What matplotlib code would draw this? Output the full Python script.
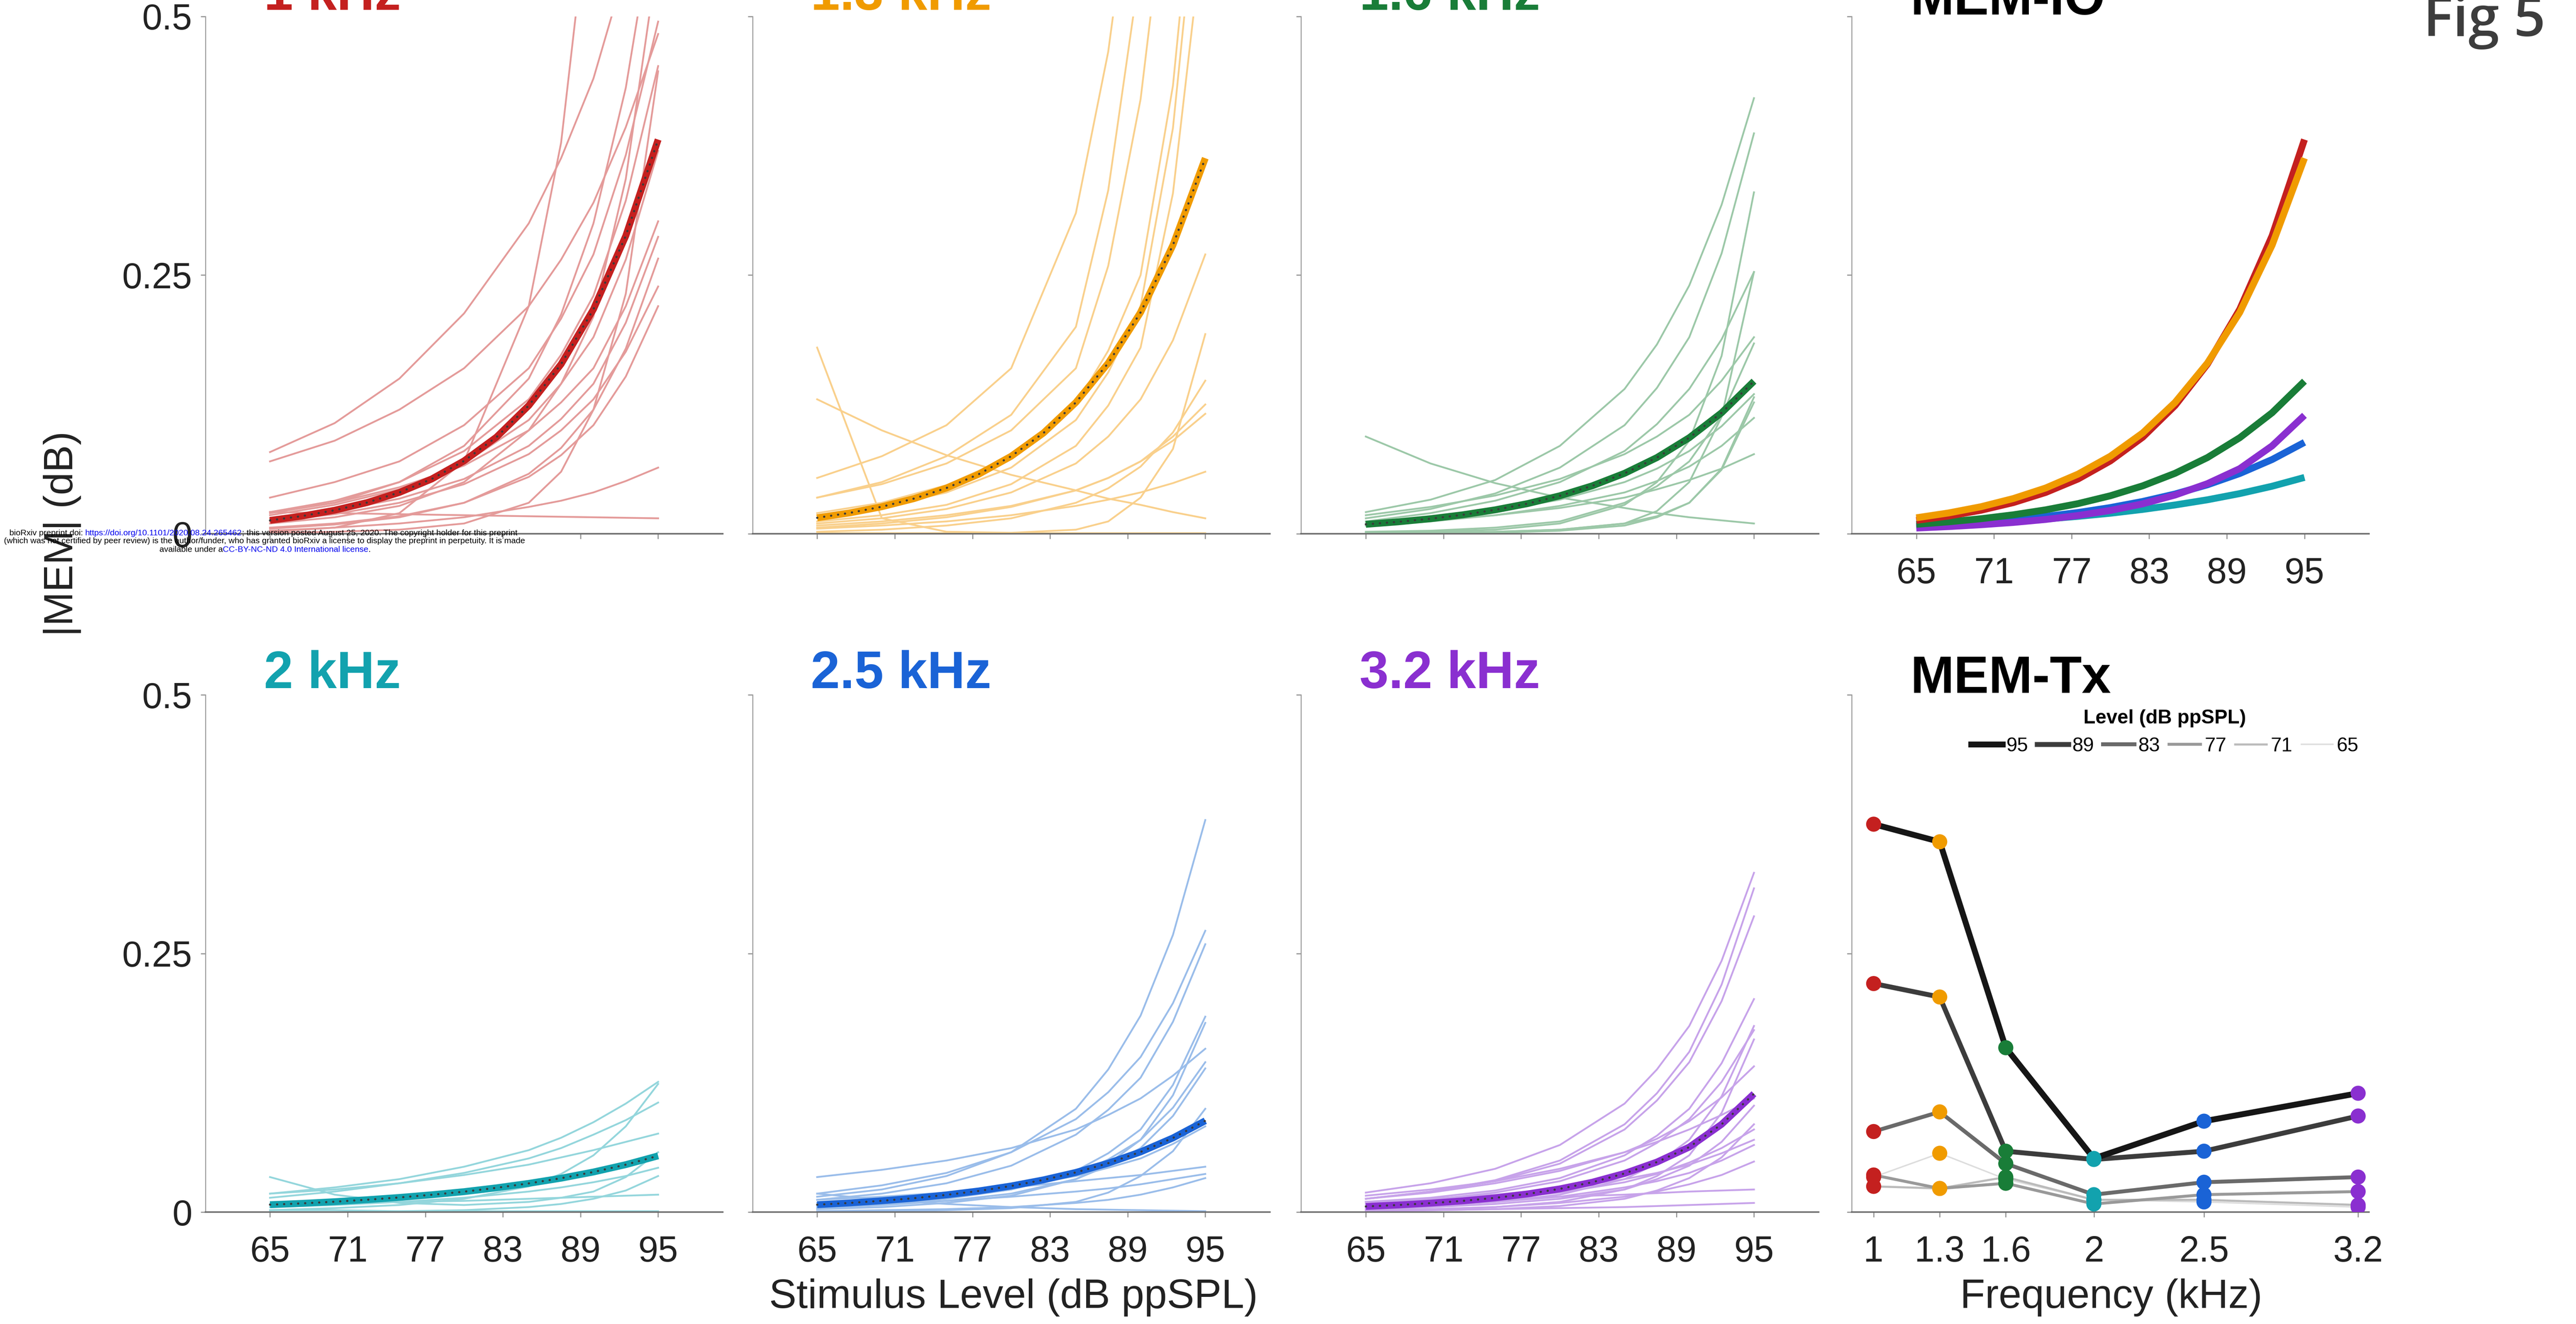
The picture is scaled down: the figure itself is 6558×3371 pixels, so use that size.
import matplotlib
matplotlib.use('Agg')
import matplotlib.pyplot as plt

plt.rcParams['font.family'] = ['Liberation Sans', 'DejaVu Sans']

levels = [65, 70, 75, 80, 85, 87.5, 90, 92.5, 95]
mean_levels = [65, 67.5, 70, 72.5, 75, 77.5, 80, 82.5, 85, 87.5, 90, 92.5, 95]
level_ticks = [65, 71, 77, 83, 89, 95]

freq_names = ['1 kHz', '1.3 kHz', '1.6 kHz', '2 kHz', '2.5 kHz', '3.2 kHz']
freq_khz = [1, 1.3, 1.6, 2, 2.5, 3.2]
freq_colors = ['#c4201f', '#f09b00', '#197d38', '#12a2ae', '#1a63d6', '#8a2fd0']
thin_colors = ['#e49b9a', '#f9d08c', '#9cc8a8', '#94d6dc', '#9abdea', '#c7a3ea']

# group mean growth functions (|MEM| in dB)
mean_1k = [0.013, 0.0172, 0.0228, 0.0302, 0.040, 0.053, 0.0705, 0.0934, 0.124, 0.164, 0.217, 0.288, 0.381]
mean_13k = [0.0155, 0.0202, 0.0262, 0.0341, 0.0443, 0.0577, 0.075, 0.0975, 0.127, 0.165, 0.214, 0.279, 0.363]
mean_16k = [0.0092, 0.0116, 0.0146, 0.0184, 0.0232, 0.0292, 0.0368, 0.0464, 0.0585, 0.0737, 0.0929, 0.117, 0.1475]
mean_2k = [0.0073, 0.0086, 0.0102, 0.0121, 0.0143, 0.0169, 0.0199, 0.0236, 0.0279, 0.0329, 0.0389, 0.046, 0.0545]
mean_25k = [0.0073, 0.009, 0.0111, 0.0136, 0.0168, 0.0206, 0.0254, 0.0313, 0.0385, 0.0474, 0.0583, 0.0718, 0.0884]
mean_32k = [0.0056, 0.0070, 0.0088, 0.0110, 0.0139, 0.0177, 0.0226, 0.0290, 0.0375, 0.0485, 0.0630, 0.0850, 0.1145]

# individual ears
subj_1k = [
    [0.079, 0.107, 0.150, 0.213, 0.300, 0.363, 0.440, 0.547, 0.680],
    [0.070, 0.090, 0.120, 0.160, 0.220, 0.265, 0.320, 0.393, 0.483],
    [0.035, 0.050, 0.070, 0.105, 0.160, 0.208, 0.270, 0.366, 0.495],
    [0.002, 0.006, 0.020, 0.070, 0.220, 0.378, 0.650, 1.111, 1.900],
    [0.020, 0.030, 0.050, 0.085, 0.150, 0.212, 0.300, 0.431, 0.620],
    [0.010, 0.016, 0.027, 0.050, 0.100, 0.145, 0.210, 0.343, 0.560],
    [0.021, 0.032, 0.050, 0.080, 0.130, 0.173, 0.230, 0.322, 0.452],
    [0.001, 0.002, 0.004, 0.010, 0.030, 0.060, 0.120, 0.232, 0.447],
    [0.018, 0.028, 0.043, 0.068, 0.110, 0.145, 0.190, 0.265, 0.370],
    [0.021, 0.030, 0.045, 0.066, 0.100, 0.127, 0.160, 0.220, 0.302],
    [0.015, 0.022, 0.034, 0.053, 0.085, 0.111, 0.145, 0.204, 0.287],
    [0.005, 0.009, 0.016, 0.030, 0.058, 0.083, 0.120, 0.179, 0.266],
    [0.012, 0.019, 0.030, 0.048, 0.077, 0.100, 0.130, 0.176, 0.239],
    [0.006, 0.010, 0.017, 0.030, 0.055, 0.076, 0.105, 0.152, 0.220],
    [0.003, 0.006, 0.010, 0.016, 0.026, 0.032, 0.040, 0.051, 0.064],
    [0.021, 0.020, 0.019, 0.018, 0.017, 0.0165, 0.016, 0.0155, 0.015],
]
subj_13k = [
    [0.180, 0.015, 0.002, 0.001, 0.004, 0.012, 0.035, 0.082, 0.193],
    [0.130, 0.100, 0.076, 0.057, 0.042, 0.034, 0.028, 0.021, 0.015],
    [0.054, 0.075, 0.105, 0.160, 0.310, 0.466, 0.700, 1.025, 1.500],
    [0.035, 0.050, 0.075, 0.115, 0.200, 0.332, 0.550, 0.846, 1.300],
    [0.035, 0.048, 0.068, 0.100, 0.160, 0.259, 0.420, 0.680, 1.100],
    [0.020, 0.030, 0.047, 0.075, 0.125, 0.177, 0.250, 0.433, 0.750],
    [0.018, 0.026, 0.040, 0.064, 0.110, 0.156, 0.220, 0.392, 0.700],
    [0.012, 0.018, 0.028, 0.048, 0.085, 0.124, 0.180, 0.329, 0.600],
    [0.010, 0.015, 0.024, 0.040, 0.068, 0.094, 0.130, 0.187, 0.270],
    [0.008, 0.012, 0.018, 0.027, 0.042, 0.054, 0.070, 0.094, 0.125],
    [0.006, 0.010, 0.016, 0.026, 0.042, 0.054, 0.070, 0.090, 0.116],
    [0.002, 0.004, 0.008, 0.015, 0.030, 0.044, 0.065, 0.098, 0.148],
    [0.005, 0.008, 0.012, 0.018, 0.027, 0.033, 0.040, 0.049, 0.060],
    [0.001, 0.001, 0.001, 0.001, 0.001, 0.001, 0.001, 0.001, 0.001],
]
subj_16k = [
    [0.094, 0.068, 0.049, 0.035, 0.025, 0.020, 0.016, 0.013, 0.010],
    [0.021, 0.033, 0.052, 0.085, 0.140, 0.183, 0.240, 0.318, 0.421],
    [0.015, 0.024, 0.039, 0.064, 0.105, 0.141, 0.190, 0.271, 0.387],
    [0.001, 0.002, 0.004, 0.010, 0.028, 0.050, 0.090, 0.172, 0.330],
    [0.012, 0.020, 0.032, 0.050, 0.080, 0.106, 0.140, 0.188, 0.253],
    [0.000, 0.001, 0.002, 0.004, 0.010, 0.022, 0.050, 0.113, 0.253],
    [0.018, 0.026, 0.037, 0.053, 0.077, 0.094, 0.115, 0.148, 0.190],
    [0.002, 0.003, 0.006, 0.012, 0.030, 0.046, 0.070, 0.114, 0.184],
    [0.010, 0.015, 0.022, 0.033, 0.050, 0.063, 0.080, 0.104, 0.135],
    [0.000, 0.000, 0.001, 0.003, 0.008, 0.016, 0.030, 0.063, 0.132],
    [0.001, 0.001, 0.002, 0.004, 0.010, 0.017, 0.030, 0.062, 0.127],
    [0.008, 0.012, 0.018, 0.027, 0.040, 0.051, 0.065, 0.085, 0.112],
    [0.009, 0.013, 0.018, 0.025, 0.035, 0.043, 0.052, 0.063, 0.077],
]
subj_2k = [
    [0.034, 0.017, 0.009, 0.007, 0.010, 0.014, 0.020, 0.034, 0.058],
    [0.018, 0.024, 0.032, 0.044, 0.060, 0.072, 0.087, 0.105, 0.126],
    [0.002, 0.004, 0.007, 0.013, 0.025, 0.037, 0.055, 0.083, 0.124],
    [0.014, 0.020, 0.028, 0.038, 0.052, 0.062, 0.075, 0.089, 0.106],
    [0.018, 0.022, 0.028, 0.036, 0.046, 0.053, 0.060, 0.068, 0.076],
    [0.005, 0.007, 0.010, 0.014, 0.020, 0.024, 0.029, 0.035, 0.043],
    [0.000, 0.000, 0.001, 0.002, 0.005, 0.008, 0.013, 0.021, 0.035],
    [0.008, 0.009, 0.010, 0.011, 0.013, 0.014, 0.015, 0.016, 0.017],
    [0.002, 0.002, 0.001, 0.001, 0.001, 0.001, 0.001, 0.001, 0.001],
]
subj_25k = [
    [0.015, 0.022, 0.035, 0.058, 0.100, 0.138, 0.190, 0.268, 0.379],
    [0.018, 0.026, 0.038, 0.058, 0.090, 0.116, 0.150, 0.202, 0.272],
    [0.012, 0.018, 0.028, 0.045, 0.075, 0.099, 0.130, 0.184, 0.259],
    [0.034, 0.041, 0.050, 0.062, 0.080, 0.094, 0.110, 0.132, 0.158],
    [0.005, 0.008, 0.013, 0.022, 0.040, 0.057, 0.080, 0.123, 0.189],
    [0.003, 0.005, 0.009, 0.016, 0.032, 0.047, 0.070, 0.113, 0.183],
    [0.006, 0.009, 0.014, 0.022, 0.037, 0.051, 0.070, 0.101, 0.145],
    [0.004, 0.007, 0.011, 0.018, 0.032, 0.045, 0.062, 0.093, 0.139],
    [0.000, 0.001, 0.002, 0.004, 0.010, 0.019, 0.035, 0.059, 0.100],
    [0.009, 0.012, 0.017, 0.024, 0.035, 0.043, 0.052, 0.066, 0.083],
    [0.012, 0.015, 0.019, 0.024, 0.030, 0.033, 0.036, 0.040, 0.044],
    [0.006, 0.008, 0.011, 0.015, 0.020, 0.023, 0.027, 0.032, 0.037],
    [0.001, 0.002, 0.003, 0.005, 0.009, 0.012, 0.017, 0.024, 0.033],
    [0.018, 0.012, 0.008, 0.005, 0.003, 0.0025, 0.002, 0.0015, 0.001],
]
subj_32k = [
    [0.019, 0.028, 0.042, 0.065, 0.105, 0.138, 0.180, 0.243, 0.328],
    [0.013, 0.020, 0.031, 0.050, 0.085, 0.115, 0.155, 0.220, 0.313],
    [0.013, 0.020, 0.030, 0.047, 0.080, 0.108, 0.145, 0.204, 0.286],
    [0.010, 0.014, 0.021, 0.033, 0.055, 0.074, 0.100, 0.144, 0.206],
    [0.004, 0.006, 0.010, 0.017, 0.032, 0.047, 0.070, 0.112, 0.180],
    [0.008, 0.012, 0.019, 0.030, 0.050, 0.067, 0.090, 0.126, 0.176],
    [0.002, 0.003, 0.005, 0.010, 0.022, 0.035, 0.055, 0.096, 0.167],
    [0.013, 0.019, 0.028, 0.040, 0.058, 0.071, 0.088, 0.111, 0.141],
    [0.016, 0.022, 0.030, 0.042, 0.058, 0.068, 0.080, 0.094, 0.110],
    [0.003, 0.005, 0.008, 0.013, 0.022, 0.032, 0.045, 0.068, 0.103],
    [0.001, 0.002, 0.003, 0.006, 0.013, 0.021, 0.033, 0.053, 0.085],
    [0.006, 0.009, 0.013, 0.019, 0.029, 0.037, 0.048, 0.062, 0.080],
    [0.010, 0.013, 0.017, 0.023, 0.032, 0.038, 0.046, 0.057, 0.070],
    [0.005, 0.007, 0.010, 0.015, 0.024, 0.030, 0.038, 0.050, 0.065],
    [0.002, 0.003, 0.005, 0.009, 0.015, 0.020, 0.027, 0.036, 0.049],
    [0.010, 0.011, 0.013, 0.015, 0.017, 0.0185, 0.020, 0.021, 0.022],
    [0.001, 0.002, 0.003, 0.004, 0.005, 0.006, 0.007, 0.008, 0.009],
]

means = [mean_1k, mean_13k, mean_16k, mean_2k, mean_25k, mean_32k]
subjects = [subj_1k, subj_13k, subj_16k, subj_2k, subj_25k, subj_32k]

# MEM-Tx: mean |MEM| per frequency at each level
tx_levels = ['95', '89', '83', '77', '71', '65']
tx_95 = [0.375, 0.358, 0.159, 0.052, 0.088, 0.115]
tx_89 = [0.221, 0.208, 0.059, 0.051, 0.059, 0.093]
tx_83 = [0.078, 0.097, 0.047, 0.017, 0.029, 0.034]
tx_77 = [0.036, 0.023, 0.028, 0.008, 0.017, 0.020]
tx_71 = [0.025, 0.023, 0.034, 0.012, 0.012, 0.007]
tx_65 = [0.034, 0.057, 0.032, 0.012, 0.010, 0.005]
tx_data = [tx_95, tx_89, tx_83, tx_77, tx_71, tx_65]
tx_grays = ['#161616', '#3c3c3c', '#6a6a6a', '#999999', '#bbbbbb', '#dddddd']
tx_widths = [3.6, 3.0, 2.4, 1.8, 1.3, 0.9]

fig = plt.figure(figsize=(6558 / 300, 3371 / 300), dpi=300)

lefts = [0.0797, 0.2921, 0.5051, 0.7188]
bottoms = [0.5968, 0.0844]
w, h = 0.2009, 0.3908


def style_axes(ax, xlabels=True, ylabels=False):
    for s in ['top', 'right']:
        ax.spines[s].set_visible(False)
    ax.spines['left'].set_color('#9a9a9a')
    ax.spines['left'].set_linewidth(0.6)
    ax.spines['bottom'].set_color('#6a6a6a')
    ax.spines['bottom'].set_linewidth(0.9)
    ax.set_ylim(0, 0.5)
    ax.set_yticks([0, 0.25, 0.5])
    ax.set_yticklabels(['0', '0.25', '0.5'])
    ax.tick_params(direction='out', length=3, width=0.6, colors='#888888',
                   labelcolor='#222222', labelsize=22)
    ax.tick_params(axis='x', pad=11)
    ax.tick_params(axis='y', pad=5)
    if not xlabels:
        ax.tick_params(labelbottom=False)
    if not ylabels:
        ax.tick_params(labelleft=False)


def panel_title(ax, text, color, y=1.013):
    ax.text(0.113, y, text, transform=ax.transAxes, color=color, fontsize=32,
            fontweight='bold', ha='left', va='baseline', clip_on=False)


slots = [(0, 0), (0, 1), (0, 2), (1, 0), (1, 1), (1, 2)]
axes = []
for i, (r, c) in enumerate(slots):
    ax = fig.add_axes([lefts[c], bottoms[r], w, h])
    for curve in subjects[i]:
        ax.plot(levels, curve, color=thin_colors[i], lw=1.1, zorder=2)
    ax.plot(mean_levels, means[i], color=freq_colors[i], lw=4.2,
            solid_capstyle='butt', zorder=3)
    ax.plot(mean_levels, means[i], color='#3a3a3a', lw=1.3,
            linestyle=(0, (0.1, 3.2)), dash_capstyle='round', zorder=4)
    ax.set_xlim(60, 100)
    ax.set_xticks(level_ticks)
    style_axes(ax, xlabels=(r == 1), ylabels=(c == 0))
    panel_title(ax, freq_names[i], freq_colors[i])
    axes.append(ax)

# MEM-IO: all group means
ax_io = fig.add_axes([lefts[3], bottoms[0], w, h])
for i in [3, 4, 5, 2, 0, 1]:
    ax_io.plot(mean_levels, means[i], color=freq_colors[i], lw=4.2,
               solid_capstyle='butt')
ax_io.set_xlim(60, 100)
ax_io.set_xticks(level_ticks)
style_axes(ax_io, xlabels=True, ylabels=False)
panel_title(ax_io, 'MEM-IO', 'black', y=1.004)

# MEM-Tx: level curves across frequency
ax_tx = fig.add_axes([lefts[3], bottoms[1], w, h])
handles = []
for k in range(len(tx_data) - 1, -1, -1):
    ln, = ax_tx.plot(freq_khz, tx_data[k], color=tx_grays[k], lw=tx_widths[k],
                     label=tx_levels[k], zorder=2 + (6 - k) * 0.1)
    handles.append(ln)
for k in range(len(tx_data) - 1, -1, -1):
    ax_tx.scatter(freq_khz, tx_data[k], c=freq_colors, s=85, linewidths=0,
                  zorder=4)
ax_tx.set_xlim(0.9, 3.25)
ax_tx.set_xticks(freq_khz)
ax_tx.set_xticklabels(['1', '1.3', '1.6', '2', '2.5', '3.2'])
style_axes(ax_tx, xlabels=True, ylabels=False)
panel_title(ax_tx, 'MEM-Tx', 'black', y=1.004)
handles = handles[::-1]
ax_tx.legend(handles, tx_levels, title='Level (dB ppSPL)',
             title_fontproperties={'weight': 'bold', 'size': 12},
             ncol=6, loc='upper center', bbox_to_anchor=(0.605, 0.995),
             frameon=False, fontsize=12, handlelength=1.6, handletextpad=0.2,
             columnspacing=0.45, borderaxespad=0.2)

# axis labels
fig.text(0.0242, 0.5968, '|MEM| (dB)', rotation=90, fontsize=25,
         ha='center', va='center', color='#222222')
fig.text(0.3935, 0.0199, 'Stimulus Level (dB ppSPL)', fontsize=25,
         ha='center', va='center', color='#222222')
fig.text(0.8195, 0.0199, 'Frequency (kHz)', fontsize=25,
         ha='center', va='center', color='#222222')

fig.text(0.9407, 0.9727, 'Fig 5', fontsize=34, color='#3d3d3d',
         family=['Open Sans', 'DejaVu Sans'], fontweight='semibold',
         ha='left', va='baseline')

# bioRxiv preprint footer, as stamped on the page
fs = 5.1
blue = '#0000ee'
wm_lines = [
    (0.0036, 0.5958, [('bioRxiv preprint doi: ', 'black'),
                      ('https://doi.org/10.1101/2020.08.24.265462', blue),
                      ('; this version posted August 25, 2020. The copyright holder for this preprint', 'black')]),
    (0.0015, 0.5896, [('(which was not certified by peer review) is the author/funder, who has granted bioRxiv a license to display the preprint in perpetuity. It is made', 'black')]),
    (0.0619, 0.5832, [('available under a', 'black'),
                      ('CC-BY-NC-ND 4.0 International license', blue),
                      ('.', 'black')]),
]
for x0, y0, parts in wm_lines:
    prev = fig.text(x0, y0, parts[0][0], fontsize=fs, color=parts[0][1],
                    ha='left', va='baseline', zorder=10)
    for txt, col in parts[1:]:
        prev = axes[0].annotate(txt, xy=(1, 0), xycoords=prev, fontsize=fs,
                                color=col, ha='left', va='bottom',
                                annotation_clip=False, zorder=10)

fig.savefig('out.png', dpi=300, facecolor='white')
